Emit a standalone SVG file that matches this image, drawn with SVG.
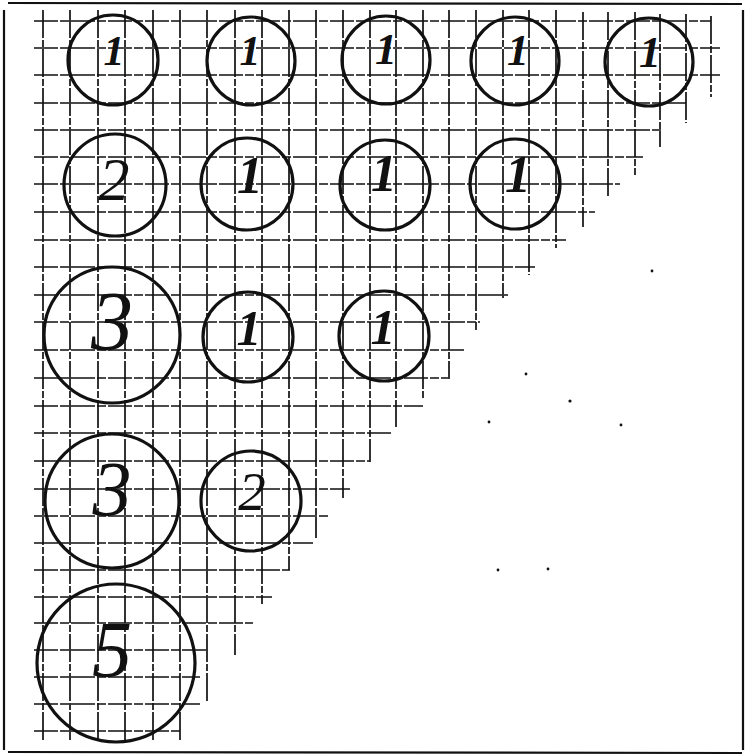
<svg xmlns="http://www.w3.org/2000/svg" width="746" height="755" viewBox="0 0 746 755">
<style>
.frame{stroke:#111;stroke-width:2.2;fill:none}
.h{stroke:#111;stroke-width:1.7;fill:none;stroke-dasharray:24 2 9 2}
.v{stroke:#111;stroke-width:1.7;fill:none;stroke-dasharray:28 2 7 2}
.c{fill:none;stroke:#111;stroke-width:3.2}
.d{font-family:"Liberation Serif","DejaVu Serif",serif;font-style:italic;fill:#111;text-anchor:middle}
.one{font-weight:bold}
.dot{fill:#111}
</style>
<rect width="746" height="755" fill="#fff"/>
<g id="frame">
<line class="frame" x1="8" y1="3" x2="742" y2="4"/>
<line class="frame" x1="4" y1="10" x2="4" y2="750"/>
<line class="frame" x1="743" y1="10" x2="743" y2="750"/>
<line class="frame" x1="8" y1="752" x2="742" y2="753"/>
</g>
<g id="connectors">
<g id="grid-h">
<line class="h" x1="34" y1="21" x2="711" y2="21"/>
<line class="h" x1="34" y1="48" x2="720" y2="48"/>
<line class="h" x1="34" y1="75" x2="720" y2="75"/>
<line class="h" x1="34" y1="103" x2="686" y2="103"/>
<line class="h" x1="34" y1="130" x2="663" y2="130"/>
<line class="h" x1="34" y1="157" x2="643" y2="157"/>
<line class="h" x1="34" y1="184" x2="620" y2="184"/>
<line class="h" x1="34" y1="212" x2="595" y2="212"/>
<line class="h" x1="34" y1="240" x2="566" y2="240"/>
<line class="h" x1="34" y1="267" x2="535" y2="267"/>
<line class="h" x1="34" y1="295" x2="508" y2="295"/>
<line class="h" x1="34" y1="322" x2="480" y2="322"/>
<line class="h" x1="34" y1="350" x2="464" y2="350"/>
<line class="h" x1="34" y1="378" x2="448" y2="378"/>
<line class="h" x1="34" y1="406" x2="423" y2="406"/>
<line class="h" x1="34" y1="433" x2="392" y2="433"/>
<line class="h" x1="34" y1="461" x2="370" y2="461"/>
<line class="h" x1="34" y1="489" x2="350" y2="489"/>
<line class="h" x1="34" y1="516" x2="330" y2="516"/>
<line class="h" x1="34" y1="543" x2="313" y2="543"/>
<line class="h" x1="34" y1="570" x2="290" y2="570"/>
<line class="h" x1="34" y1="597" x2="272" y2="597"/>
<line class="h" x1="34" y1="623" x2="253" y2="623"/>
<line class="h" x1="34" y1="650" x2="207" y2="650"/>
<line class="h" x1="34" y1="677" x2="200" y2="677"/>
<line class="h" x1="34" y1="704" x2="200" y2="704"/>
<line class="h" x1="34" y1="731" x2="182" y2="731"/>
</g>
<g id="grid-v">
<line class="v" x1="43" y1="10" x2="43" y2="741"/>
<line class="v" x1="70" y1="10" x2="70" y2="741"/>
<line class="v" x1="98" y1="10" x2="98" y2="741"/>
<line class="v" x1="125" y1="10" x2="125" y2="741"/>
<line class="v" x1="153" y1="10" x2="153" y2="741"/>
<line class="v" x1="180" y1="10" x2="180" y2="742"/>
<line class="v" x1="207" y1="10" x2="207" y2="702"/>
<line class="v" x1="235" y1="10" x2="235" y2="655"/>
<line class="v" x1="262" y1="10" x2="262" y2="604"/>
<line class="v" x1="289" y1="10" x2="289" y2="570"/>
<line class="v" x1="316" y1="10" x2="316" y2="538"/>
<line class="v" x1="343" y1="10" x2="343" y2="498"/>
<line class="v" x1="370" y1="10" x2="370" y2="462"/>
<line class="v" x1="396" y1="10" x2="396" y2="427"/>
<line class="v" x1="423" y1="10" x2="423" y2="398"/>
<line class="v" x1="449" y1="10" x2="449" y2="379"/>
<line class="v" x1="476" y1="10" x2="476" y2="330"/>
<line class="v" x1="503" y1="10" x2="503" y2="298"/>
<line class="v" x1="529" y1="10" x2="529" y2="275"/>
<line class="v" x1="556" y1="10" x2="556" y2="248"/>
<line class="v" x1="583" y1="12" x2="583" y2="227"/>
<line class="v" x1="608" y1="12" x2="608" y2="197"/>
<line class="v" x1="635" y1="12" x2="635" y2="175"/>
<line class="v" x1="660" y1="14" x2="660" y2="147"/>
<line class="v" x1="686" y1="14" x2="686" y2="123"/>
<line class="v" x1="711" y1="16" x2="711" y2="97"/>
</g>
</g>
<g id="specks">
<circle class="dot" cx="652" cy="271" r="1.4"/>
<circle class="dot" cx="526" cy="374" r="1.4"/>
<circle class="dot" cx="570" cy="401" r="1.6"/>
<circle class="dot" cx="489" cy="422" r="1.4"/>
<circle class="dot" cx="621" cy="425" r="1.4"/>
<circle class="dot" cx="498" cy="570" r="1.4"/>
<circle class="dot" cx="548" cy="569" r="1.4"/>
</g>
<g id="n-r1c1"><circle class="c" cx="113" cy="60" r="45"/><text class="d one" x="114" y="65" font-size="42">1</text></g>
<g id="n-r1c2"><circle class="c" cx="251" cy="61" r="44"/><text class="d one" x="250" y="65" font-size="42">1</text></g>
<g id="n-r1c3"><circle class="c" cx="386" cy="60" r="44"/><text class="d one" x="386" y="64" font-size="44">1</text></g>
<g id="n-r1c4"><circle class="c" cx="515" cy="61" r="44"/><text class="d one" x="518" y="65" font-size="44">1</text></g>
<g id="n-r1c5"><circle class="c" cx="649" cy="62" r="44"/><text class="d one" x="650" y="67" font-size="44">1</text></g>
<g id="n-r2c1"><circle class="c" cx="115" cy="185" r="51"/><text class="d" x="114" y="200" font-size="62">2</text></g>
<g id="n-r2c2"><circle class="c" cx="247" cy="184" r="46"/><text class="d one" x="250" y="193" font-size="52">1</text></g>
<g id="n-r2c3"><circle class="c" cx="385" cy="185" r="45"/><text class="d one" x="384" y="191" font-size="52">1</text></g>
<g id="n-r2c4"><circle class="c" cx="515" cy="184" r="45"/><text class="d one" x="518" y="192" font-size="52">1</text></g>
<g id="n-r3c1"><circle class="c" cx="112" cy="335" r="68"/><text class="d" x="112" y="350" font-size="84">3</text></g>
<g id="n-r3c2"><circle class="c" cx="248" cy="337" r="45"/><text class="d one" x="249" y="345" font-size="50">1</text></g>
<g id="n-r3c3"><circle class="c" cx="384" cy="336" r="45"/><text class="d one" x="383" y="344" font-size="50">1</text></g>
<g id="n-r4c1"><circle class="c" cx="112" cy="501" r="67"/><text class="d" x="112" y="515" font-size="78">3</text></g>
<g id="n-r4c2"><circle class="c" cx="251" cy="501" r="50"/><text class="d" x="252" y="510" font-size="55">2</text></g>
<g id="n-r5c1"><circle class="c" cx="116" cy="663" r="79"/><text class="d" x="112" y="677" font-size="80">5</text></g>
</svg>
